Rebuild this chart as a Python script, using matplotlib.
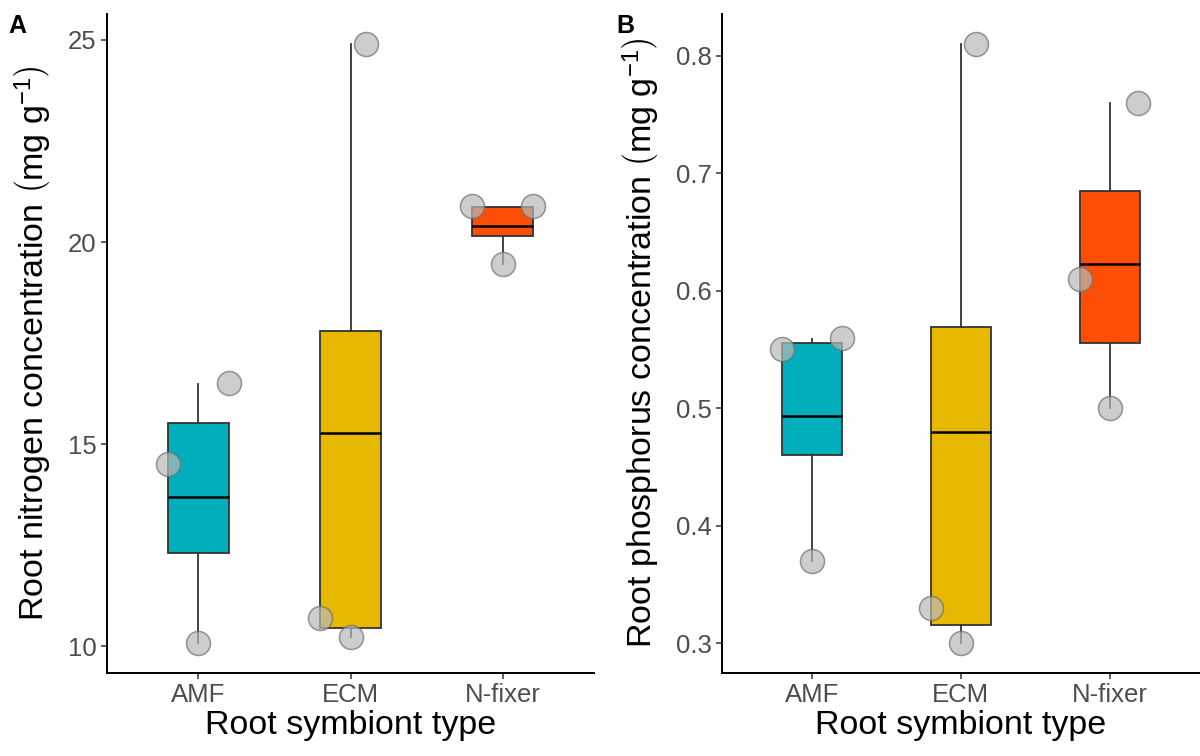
import matplotlib
matplotlib.use("Agg")
import matplotlib.pyplot as plt

plt.rcParams["font.family"] = ["Liberation Sans", "DejaVu Sans"]
plt.rcParams["mathtext.fontset"] = "custom"
plt.rcParams["mathtext.rm"] = "Liberation Sans"
plt.rcParams["mathtext.it"] = "Liberation Sans:italic"
plt.rcParams["mathtext.bf"] = "Liberation Sans:bold"

categories = ["AMF", "ECM", "N-fixer"]
box_colors = ["#00AFBB", "#E7B800", "#FC4E07"]

# Panel A: root nitrogen (mg g-1) box summaries
n_whislo = [10.08, 10.22, 19.45]
n_q1 = [12.30, 10.45, 20.14]
n_med = [13.70, 15.28, 20.40]
n_q3 = [15.52, 17.79, 20.87]
n_whishi = [16.50, 24.89, 20.87]
# observed points (category index, jitter offset, value)
n_pt_cat = [0, 0, 0, 1, 1, 1, 2, 2, 2]
n_pt_off = [-0.2, 0.2, 0.0, 0.1, -0.2, 0.0, -0.2, 0.2, 0.0]
n_pt_val = [14.51, 16.51, 10.08, 24.89, 10.70, 10.22, 20.90, 20.90, 19.45]

# Panel B: root phosphorus (mg g-1)
p_whislo = [0.370, 0.300, 0.500]
p_q1 = [0.460, 0.315, 0.555]
p_med = [0.493, 0.480, 0.623]
p_q3 = [0.555, 0.569, 0.685]
p_whishi = [0.559, 0.810, 0.760]
p_pt_cat = [0, 0, 0, 1, 1, 1, 2, 2, 2]
p_pt_off = [-0.2, 0.2, 0.0, 0.1, -0.2, 0.0, -0.2, 0.19, 0.0]
p_pt_val = [0.550, 0.560, 0.370, 0.810, 0.330, 0.300, 0.610, 0.760, 0.500]


def draw_panel(ax, whislo, q1, med, q3, whishi, pt_cat, pt_off, pt_val,
               ylim, yticks, yticklabels, ylabel):
    stats = []
    for i in range(len(categories)):
        stats.append(dict(med=med[i], q1=q1[i], q3=q3[i],
                          whislo=whislo[i], whishi=whishi[i], fliers=[]))
    pos = list(range(1, len(categories) + 1))
    bp = ax.bxp(stats, positions=pos, widths=0.4, patch_artist=True,
                showcaps=False, showfliers=False,
                boxprops=dict(edgecolor="#333333", linewidth=1.3),
                whiskerprops=dict(color="#333333", linewidth=1.3),
                medianprops=dict(color="black", linewidth=1.8))
    for patch, c in zip(bp["boxes"], box_colors):
        patch.set_facecolor(c)
    xs = [pos[c] + o for c, o in zip(pt_cat, pt_off)]
    ax.scatter(xs, pt_val, s=300, facecolor="#B8B8B8", edgecolor="#6E6E6E",
               linewidth=1.1, alpha=0.7, zorder=5)
    ax.set_xlim(0.4, 3.6)
    ax.set_ylim(*ylim)
    ax.set_xticks(pos)
    ax.set_xticklabels(categories)
    ax.set_yticks(yticks)
    ax.set_yticklabels(yticklabels)
    for s in ["top", "right"]:
        ax.spines[s].set_visible(False)
    for s in ["left", "bottom"]:
        ax.spines[s].set_linewidth(1.4)
        ax.spines[s].set_color("black")
    ax.tick_params(axis="both", labelsize=18.5, labelcolor="#4D4D4D",
                   color="#333333", length=4.5, width=1.1, pad=3)
    ax.set_xlabel("Root symbiont type", fontsize=24.5, labelpad=2)
    ax.set_ylabel(ylabel, fontsize=24.5, labelpad=10)


fig = plt.figure(figsize=(12, 7.56), dpi=100)
axA = fig.add_axes([0.0892, 0.1098, 0.4058, 0.8717])
axB = fig.add_axes([0.6019, 0.1098, 0.3975, 0.8717])

draw_panel(axA, n_whislo, n_q1, n_med, n_q3, n_whishi,
           n_pt_cat, n_pt_off, n_pt_val, (9.34, 25.64),
           [10, 15, 20, 25], ["10", "15", "20", "25"],
           r"Root nitrogen concentration $\left(\mathrm{mg\ g^{-1}}\right)$")
draw_panel(axB, p_whislo, p_q1, p_med, p_q3, p_whishi,
           p_pt_cat, p_pt_off, p_pt_val, (0.2745, 0.8355),
           [0.3, 0.4, 0.5, 0.6, 0.7, 0.8], ["0.3", "0.4", "0.5", "0.6", "0.7", "0.8"],
           r"Root phosphorus concentration $\left(\mathrm{mg\ g^{-1}}\right)$")

fig.text(0.007, 0.957, "A", fontsize=18, fontweight="bold", va="baseline")
fig.text(0.514, 0.957, "B", fontsize=18, fontweight="bold", va="baseline")

fig.savefig("out.png", dpi=100)
